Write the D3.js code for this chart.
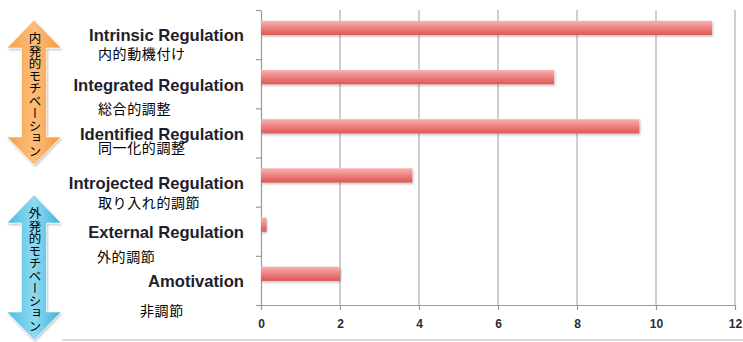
<!DOCTYPE html>
<html>
<head>
<meta charset="utf-8">
<script src="https://cdn.jsdelivr.net/npm/d3@7"></script>
<style>
  html, body { margin: 0; padding: 0; background: #fff; }
  svg { display: block; }
</style>
</head>
<body>
<svg id="chart" width="743" height="342"></svg>
<script>
// ---- data ----
const categories = ["Intrinsic Regulation", "Integrated Regulation", "Identified Regulation",
                    "Introjected Regulation", "External Regulation", "Amotivation"];
const jpLabels = ["内的動機付け", "総合的調整", "同一化的調整", "取り入れ的調節", "外的調節", "非調節"];
const values = [11.42, 7.42, 9.58, 3.83, 0.14, 2.0];
const xTicks = [0, 2, 4, 6, 8, 10, 12];
const arrowLabels = ["内発的モチベーション", "外発的モチベーション"];

// ---- layout ----
const svg = d3.select("#chart");
const plotL = 261, plotR = 735, plotT = 10, plotB = 305;

const x = d3.scaleLinear().domain([0, 12]).range([plotL, plotR]);
const y = d3.scaleBand().domain(categories).range([plotT, plotB]).paddingInner(0).paddingOuter(0);
const bw = y.bandwidth();

const defs = svg.append("defs");
const barGrad = defs.append("linearGradient").attr("id", "barGrad")
  .attr("x1", 0).attr("y1", 0).attr("x2", 0).attr("y2", 1);
barGrad.append("stop").attr("offset", "0%").attr("stop-color", "#f7b3b1");
barGrad.append("stop").attr("offset", "45%").attr("stop-color", "#ef8583");
barGrad.append("stop").attr("offset", "100%").attr("stop-color", "#db5855");

function hGrad(id, c1, c2, c3) {
  const g = defs.append("linearGradient").attr("id", id)
    .attr("x1", 0).attr("y1", 0).attr("x2", 1).attr("y2", 0);
  g.append("stop").attr("offset", "0%").attr("stop-color", c1);
  g.append("stop").attr("offset", "50%").attr("stop-color", c2);
  g.append("stop").attr("offset", "100%").attr("stop-color", c3);
}
hGrad("orangeGrad", "#f6a048", "#fcbd78", "#f49a3e");
hGrad("blueGrad", "#48bde3", "#8fdaf1", "#3cb2da");

const shadow = defs.append("filter").attr("id", "shadow")
  .attr("x", "-20%").attr("y", "-20%").attr("width", "140%").attr("height", "140%");
shadow.append("feDropShadow").attr("dx", 1).attr("dy", 1.5).attr("stdDeviation", 1.2)
  .attr("flood-color", "#000").attr("flood-opacity", 0.25);

// gridlines
svg.append("g").selectAll("line").data(xTicks.filter(d => d > 0)).join("line")
  .attr("x1", d => x(d)).attr("x2", d => x(d))
  .attr("y1", plotT).attr("y2", plotB)
  .attr("stroke", "#adadad").attr("stroke-width", 1.2);

// bottom axis
const xAxis = svg.append("g").attr("transform", `translate(0,${plotB})`)
  .call(d3.axisBottom(x).tickValues(xTicks).tickSizeInner(5).tickSizeOuter(0).tickPadding(9));
xAxis.select(".domain").attr("stroke", "#9a9a9a").attr("stroke-width", 1.2);
xAxis.selectAll(".tick line").attr("stroke", "#9a9a9a").attr("stroke-width", 1.2);
xAxis.selectAll(".tick text").attr("font-family", "'Liberation Sans', Arial, sans-serif")
  .attr("font-size", 12).attr("font-weight", "bold").attr("fill", "#2b2b3a");

// left axis (ticks at band boundaries)
const yb = d3.scaleLinear().domain([0, categories.length]).range([plotB, plotT]);
const yAxis = svg.append("g").attr("transform", `translate(${plotL},0)`)
  .call(d3.axisLeft(yb).tickValues(d3.range(categories.length + 1)).tickFormat("")
    .tickSizeInner(5).tickSizeOuter(0));
yAxis.select(".domain").attr("stroke", "#9a9a9a").attr("stroke-width", 1.2);
yAxis.selectAll(".tick line").attr("stroke", "#9a9a9a").attr("stroke-width", 1.2);

// bars
svg.append("g").selectAll("rect").data(categories).join("rect")
  .attr("x", x(0))
  .attr("y", d => y(d) + bw * 0.22)
  .attr("width", (d, i) => x(values[i]) - x(0))
  .attr("height", bw * 0.29)
  .attr("fill", "url(#barGrad)")
  .attr("filter", "url(#shadow)");

// English labels
svg.append("g").selectAll("text").data(categories).join("text")
  .attr("x", 244)
  .attr("y", d => y(d) + bw / 2 + 1)
  .attr("dy", "0.35em")
  .attr("text-anchor", "end")
  .attr("font-family", "'Liberation Sans', Arial, Helvetica, sans-serif")
  .attr("font-weight", "bold")
  .attr("font-size", 16.6)
  .attr("fill", "#1e1e2c")
  .text(d => d);

// Japanese labels
const jpDy = [19.5, 25.5, 15, 20.5, 26, 30.5];
const jpX = [98, 98, 98, 98, 97, 140];
svg.append("g").selectAll("text").data(jpLabels).join("text")
  .attr("x", (d, i) => jpX[i])
  .attr("y", (d, i) => y(categories[i]) + bw / 2 + jpDy[i])
  .attr("dy", "0.36em")
  .attr("font-family", "'Noto Sans CJK JP', sans-serif")
  .attr("font-size", 14)
  .attr("letter-spacing", 0.6)
  .attr("fill", "#000")
  .text(d => d);

// double-headed arrows
function arrow(cx, y0, y1, fill, label) {
  const hw = 27, sw = 12.5, hh = 28;
  const p = d3.path();
  p.moveTo(cx, y0);
  p.lineTo(cx + hw, y0 + hh);
  p.lineTo(cx + sw, y0 + hh);
  p.lineTo(cx + sw, y1 - hh);
  p.lineTo(cx + hw, y1 - hh);
  p.lineTo(cx, y1);
  p.lineTo(cx - hw, y1 - hh);
  p.lineTo(cx - sw, y1 - hh);
  p.lineTo(cx - sw, y0 + hh);
  p.lineTo(cx - hw, y0 + hh);
  p.closePath();
  svg.append("path").attr("d", p.toString()).attr("fill", fill)
    .attr("stroke", "rgba(255,255,255,0.6)").attr("stroke-width", 1)
    .attr("filter", "url(#shadow)");
  svg.append("text")
    .attr("x", cx + 1)
    .attr("y", (y0 + y1) / 2 + 2)
    .attr("text-anchor", "middle")
    .style("writing-mode", "vertical-rl")
    .attr("font-family", "'Noto Sans CJK JP', sans-serif")
    .attr("font-size", 12.5)
    .attr("fill", "#000")
    .text(label);
}
arrow(34, 20, 165, "url(#orangeGrad)", arrowLabels[0]);
arrow(34, 195, 340, "url(#blueGrad)", arrowLabels[1]);

// bottom rule
svg.append("line").attr("x1", 62).attr("x2", 743).attr("y1", 340).attr("y2", 340)
  .attr("stroke", "#cfcfcf").attr("stroke-width", 1.5);
</script>
</body>
</html>
